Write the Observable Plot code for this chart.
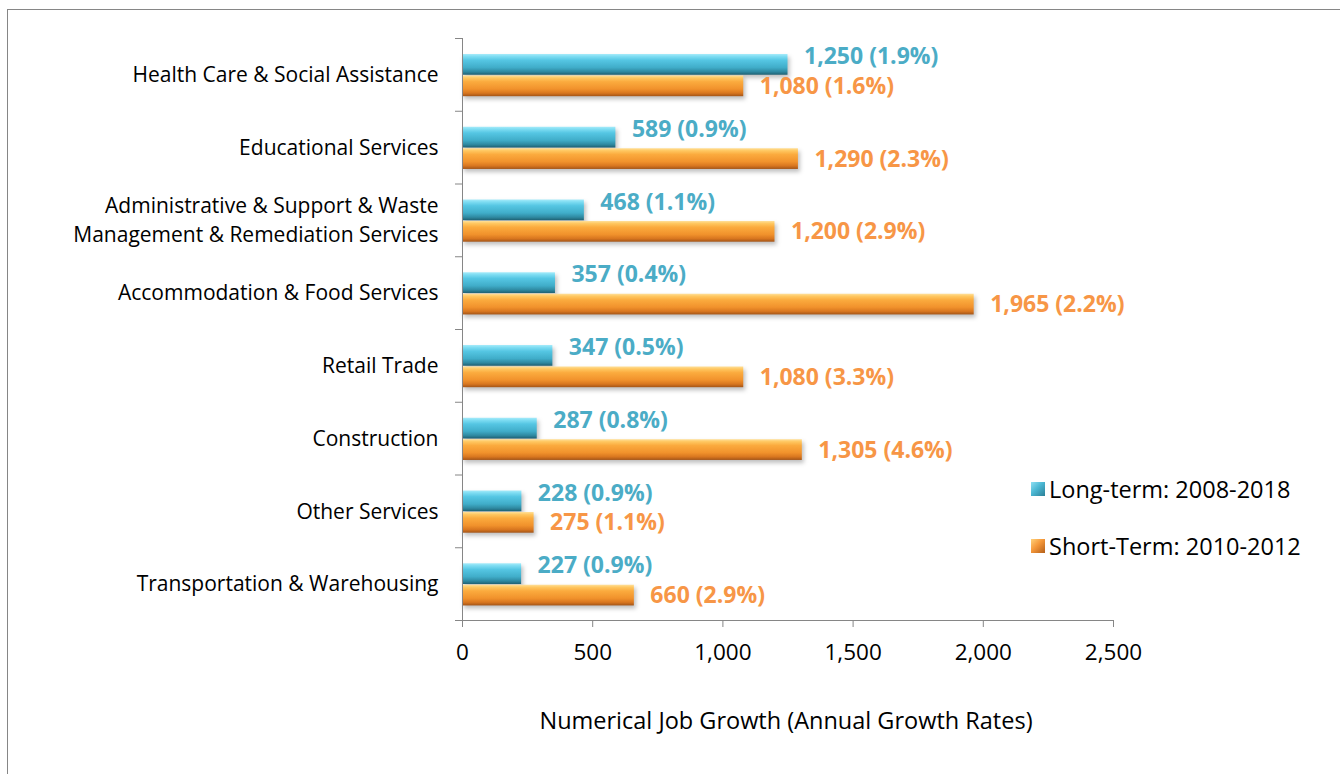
<!DOCTYPE html>
<html>
<head>
<meta charset="utf-8">
<script src="https://cdn.jsdelivr.net/npm/d3@7"></script>
<script src="https://cdn.jsdelivr.net/npm/@observablehq/plot@0.6"></script>
<style>
  html, body { margin: 0; padding: 0; background: #fff; }
  #wrap { position: relative; width: 1340px; height: 774px; overflow: hidden; font-family: "Open Sans", sans-serif; }
  #frame { position: absolute; left: 7px; top: 9px; width: 1400px; height: 800px; border: 1px solid #868686; box-sizing: border-box; }
  #chart { position: absolute; left: 0; top: 0; }
  #legend { position: absolute; left: 1031px; top: 473px; font-size: 23.5px; color: #000; }
  .item { display: flex; align-items: center; height: 32px; margin-bottom: 25px; }
  .sw { width: 14px; height: 14px; margin-right: 4px; box-sizing: border-box; }
  svg g[aria-label="rect"] { filter: drop-shadow(2px 3px 2px rgba(0,0,0,0.25)); }
  svg g[aria-label="x-axis tick label"] { font-size: 22.5px; }
</style>
</head>
<body>
<div id="wrap">
  <div id="frame"></div>
  <div id="chart"></div>
  <div id="legend"></div>
</div>
<script>
const categories = [
  "Health Care & Social Assistance",
  "Educational Services",
  "Administrative & Support & Waste\nManagement & Remediation Services",
  "Accommodation & Food Services",
  "Retail Trade",
  "Construction",
  "Other Services",
  "Transportation & Warehousing"
];
const longTerm = [1250, 589, 468, 357, 347, 287, 228, 227];
const longRate = [1.9, 0.9, 1.1, 0.4, 0.5, 0.8, 0.9, 0.9];
const shortTerm = [1080, 1290, 1200, 1965, 1080, 1305, 275, 660];
const shortRate = [1.6, 2.3, 2.9, 2.2, 3.3, 4.6, 1.1, 2.9];
const seriesNames = ["Long-term: 2008-2018", "Short-Term: 2010-2012"];
const xTicks = [0, 500, 1000, 1500, 2000, 2500];
const xTitle = "Numerical Job Growth (Annual Growth Rates)";

const blue = "#4bacc6", orange = "#f79646", axisGray = "#868686";
const fmt = d3.format(",");
const longRows = categories.map((c, i) => ({i, value: longTerm[i], rate: longRate[i]}));
const shortRows = categories.map((c, i) => ({i, value: shortTerm[i], rate: shortRate[i]}));
const label = d => `${fmt(d.value)} (${d.rate.toFixed(1)}%)`;

const svg = Plot.plot({
  width: 1340,
  height: 774,
  marginLeft: 462,
  marginRight: 227,
  marginTop: 38,
  marginBottom: 154,
  style: {fontFamily: "'Open Sans', sans-serif", fontSize: "20px", background: "transparent", overflow: "visible"},
  x: {domain: [0, 2500]},
  y: {domain: [0, categories.length], reverse: true},
  marks: [
    Plot.rectX(longRows, {x1: 0, x2: "value", y1: d => d.i + 0.22, y2: d => d.i + 0.505, fill: "url(#gBlue)"}),
    Plot.rectX(shortRows, {x1: 0, x2: "value", y1: d => d.i + 0.515, y2: d => d.i + 0.80, fill: "url(#gOrange)"}),
    Plot.text(longRows, {x: "value", y: d => d.i + 0.25, text: label, textAnchor: "start", dx: 16, fill: blue, fontWeight: "bold", fontSize: 23}),
    Plot.text(shortRows, {x: "value", y: d => d.i + 0.66, text: label, textAnchor: "start", dx: 16, fill: orange, fontWeight: "bold", fontSize: 23}),
    Plot.ruleX([0], {y1: 0, y2: categories.length, stroke: axisGray}),
    Plot.ruleY([categories.length], {x1: 0, x2: 2500, stroke: axisGray}),
    Plot.axisX({ticks: xTicks, tickFormat: fmt, tickSize: 7, tickPadding: 17, stroke: axisGray, fill: "#000", label: null}),
    Plot.axisY({ticks: d3.range(0, categories.length + 1), tickFormat: () => "", tickSize: 7, stroke: axisGray, label: null}),
    Plot.axisY({ticks: categories.map((_, i) => i + 0.5), tickFormat: v => categories[Math.floor(v)], tickSize: 0, tickPadding: 24, lineHeight: 1.38, fill: "#000", label: null, fontSize: 21, dy: -2}),
    Plot.text([xTitle], {frameAnchor: "bottom", dy: 108, dx: -2, fill: "#000", fontSize: 23.5})
  ]
});

const defs = d3.select(svg).insert("defs", ":first-child");
function grad(id, stops) {
  const g = defs.append("linearGradient").attr("id", id).attr("x1", 0).attr("y1", 0).attr("x2", 0).attr("y2", 1);
  stops.forEach(([o, c]) => g.append("stop").attr("offset", o).attr("stop-color", c));
}
grad("gBlue", [[0, "#a6ebfa"], [0.12, "#7ddcf2"], [0.3, "#55c6e3"], [0.65, "#40adc9"], [0.85, "#2f8aa2"], [1, "#1f6173"]]);
grad("gOrange", [[0, "#ffe09a"], [0.12, "#ffc760"], [0.3, "#fbab3e"], [0.65, "#f1922c"], [0.85, "#d8761f"], [1, "#a35417"]]);

document.getElementById("chart").appendChild(svg);

const legend = document.getElementById("legend");
const swatches = [
  "linear-gradient(135deg, #8fe0f3 0%, #4bb7d3 45%, #2c7f96 100%)",
  "linear-gradient(135deg, #ffd27a 0%, #f5983a 45%, #b35f1a 100%)"
];
seriesNames.forEach((name, k) => {
  const item = document.createElement("div");
  item.className = "item";
  const sw = document.createElement("div");
  sw.className = "sw";
  sw.style.background = swatches[k];
  const t = document.createElement("span");
  t.textContent = name;
  item.appendChild(sw);
  item.appendChild(t);
  legend.appendChild(item);
});
</script>
</body>
</html>
